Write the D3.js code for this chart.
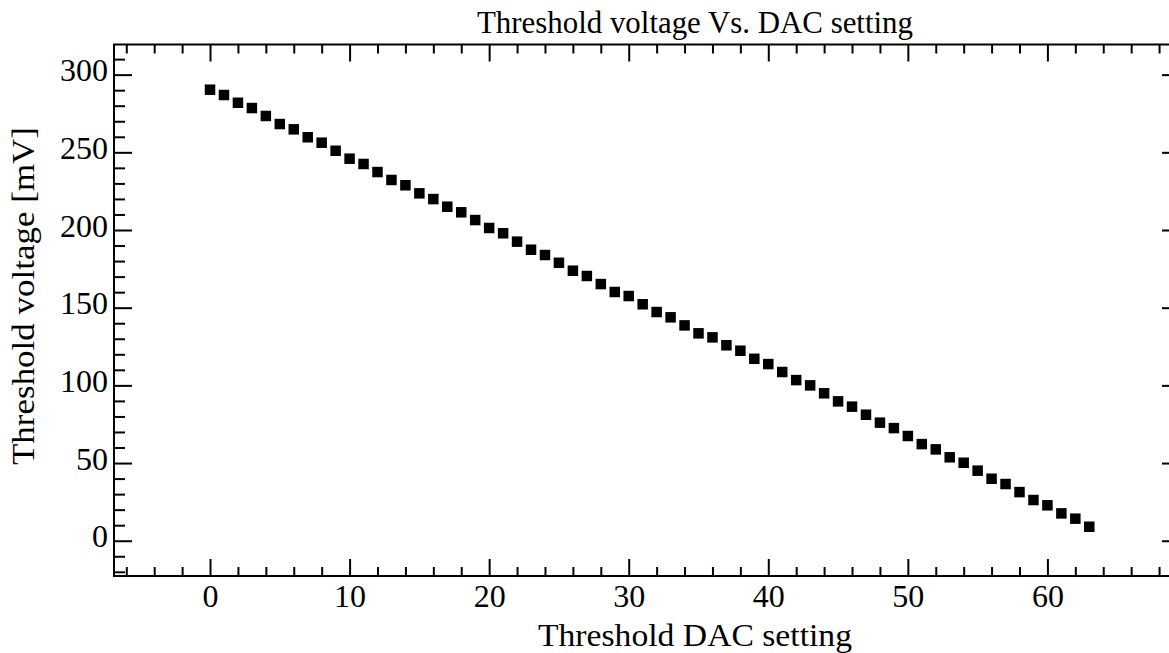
<!DOCTYPE html>
<html>
<head>
<meta charset="utf-8">
<script src="https://cdn.jsdelivr.net/npm/d3@7"></script>
<style>
  html, body { margin: 0; padding: 0; background: #fff; }
  svg { display: block; }
  .axis path { display: none; }
  .axis line { stroke: #000; stroke-width: 2; }
  .axis text { font-family: "Liberation Serif", "Times New Roman", serif; font-size: 32px; fill: #000; }
  .lbl { font-family: "Liberation Serif", "Times New Roman", serif; font-size: 31px; fill: #000; }
</style>
</head>
<body>
<svg id="chart" width="1169" height="653"></svg>
<script>
// DAC code settings 0..63 and the measured threshold voltage for each (mV)
const dacSettings = d3.range(0, 64);
const thresholdMv = [
  290.3, 286.9, 281.9, 278.5, 273.4, 268.2, 264.8, 259.7, 256.2, 251.0,
  245.9, 242.5, 237.3, 232.2, 228.8, 223.6, 219.9, 215.0, 211.4, 206.4,
  201.3, 197.9, 192.5, 187.3, 183.9, 178.9, 173.8, 170.4, 165.2, 160.1,
  157.5, 152.2, 147.2, 143.8, 138.6, 133.5, 130.9, 125.8, 122.3, 117.1,
  113.7, 108.6, 103.4, 100.0, 94.9, 89.7, 86.3, 81.1, 76.0, 72.5,
  67.4, 62.2, 58.8, 53.7, 50.2, 45.1, 39.9, 36.5, 31.3, 26.2,
  22.8, 17.6, 14.2, 9.0
];

// Tick values
const xMajorTicks = [0, 10, 20, 30, 40, 50, 60];
const xMinorTicks = d3.range(-6, 70, 2).filter(v => v % 10 !== 0);
const yMajorTicks = [0, 50, 100, 150, 200, 250, 300];
const yMinorTicks = d3.range(-20, 320, 10).filter(v => v % 50 !== 0);

const titleText = "Threshold voltage Vs. DAC setting";
const xLabelText = "Threshold DAC setting";
const yLabelText = "Threshold voltage [mV]";

const svg = d3.select("#chart");
const plotLeft = 114, plotRight = 1180, plotTop = 44.5, plotBottom = 576;

const x = d3.scaleLinear().domain([-6.88, 69.5]).range([plotLeft, plotRight]);
const y = d3.scaleLinear().domain([-22.7, 319.4]).range([plotBottom, plotTop]);

const majorLen = 17, minorLen = 10;

function addAxis(gen, tx, ty, values, len, showLabels) {
  return svg.append("g").attr("class", "axis")
    .attr("transform", `translate(${tx},${ty})`)
    .call(gen.tickValues(values).tickSize(-len).tickSizeOuter(0)
      .tickFormat(showLabels ? d3.format("d") : () => ""));
}

// bottom axis
addAxis(d3.axisBottom(x), 0, plotBottom, xMinorTicks, minorLen - 1, false);
const gxb = addAxis(d3.axisBottom(x), 0, plotBottom, xMajorTicks, majorLen, true);
gxb.selectAll("text").attr("y", 31).attr("dy", 0);

// top axis
addAxis(d3.axisTop(x), 0, plotTop, xMinorTicks, minorLen - 1, false);
addAxis(d3.axisTop(x), 0, plotTop, xMajorTicks, majorLen, false);

// left axis
addAxis(d3.axisLeft(y), plotLeft, 0, yMinorTicks, minorLen + 1, false);
const gyl = addAxis(d3.axisLeft(y), plotLeft, 0, yMajorTicks, majorLen + 1, true);
gyl.selectAll("text").attr("x", -6).attr("dy", 6);

// right axis
addAxis(d3.axisRight(y), plotRight, 0, yMinorTicks, minorLen + 1, false);
addAxis(d3.axisRight(y), plotRight, 0, yMajorTicks, majorLen + 1, false);

// plot frame
svg.append("rect")
  .attr("x", plotLeft).attr("y", plotTop)
  .attr("width", plotRight - plotLeft).attr("height", plotBottom - plotTop)
  .attr("fill", "none").attr("stroke", "#000").attr("stroke-width", 2);

// data markers
const size = 10.5;
svg.append("g").selectAll("rect")
  .data(dacSettings)
  .join("rect")
  .attr("x", d => x(d) - size / 2)
  .attr("y", (d, i) => y(thresholdMv[i]) - size / 2)
  .attr("width", size).attr("height", size)
  .attr("fill", "#000");

// title and axis labels
svg.append("text").attr("class", "lbl")
  .attr("x", 695).attr("y", 33).attr("text-anchor", "middle")
  .attr("textLength", 436).attr("lengthAdjust", "spacingAndGlyphs")
  .text(titleText);

svg.append("text").attr("class", "lbl")
  .attr("x", 695).attr("y", 645.5).attr("text-anchor", "middle")
  .attr("textLength", 314).attr("lengthAdjust", "spacingAndGlyphs")
  .text(xLabelText);

svg.append("text").attr("class", "lbl")
  .attr("transform", "translate(34,296) rotate(-90)")
  .attr("text-anchor", "middle")
  .attr("textLength", 338).attr("lengthAdjust", "spacingAndGlyphs")
  .text(yLabelText);
</script>
</body>
</html>
